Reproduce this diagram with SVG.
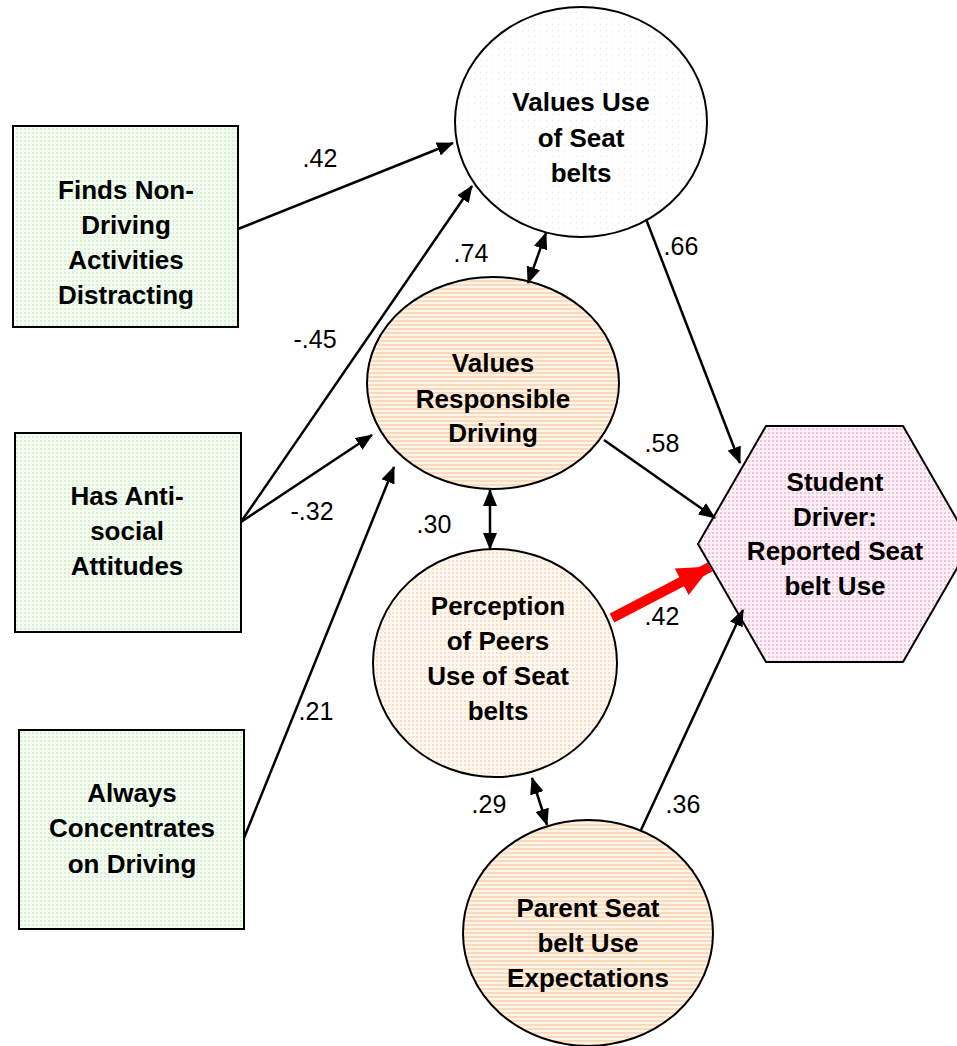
<svg xmlns="http://www.w3.org/2000/svg" width="957" height="1046" viewBox="0 0 957 1046">
<defs>
<marker id="ah" markerUnits="userSpaceOnUse" markerWidth="18" markerHeight="14" refX="16" refY="7" orient="auto-start-reverse"><path d="M0,0 L17,7 L0,14 Z" fill="#000"/></marker>
<marker id="ahr" markerUnits="userSpaceOnUse" markerWidth="34" markerHeight="30" refX="32" refY="15" orient="auto"><path d="M0,0 L33,15 L0,30 Z" fill="#f00"/></marker>
<pattern id="pg" width="4" height="4" patternUnits="userSpaceOnUse"><rect width="4" height="4" fill="#f4fcf2"/><rect width="2" height="2" fill="#d8f0d4"/></pattern>
<pattern id="po" width="4" height="4" patternUnits="userSpaceOnUse"><rect width="4" height="4" fill="#fff4ea"/><rect width="4" height="2" fill="#fbd9bb"/></pattern>
<pattern id="pq" width="4" height="4" patternUnits="userSpaceOnUse"><rect width="4" height="4" fill="#fff8f0"/><rect width="2" height="2" fill="#fbe0c8"/></pattern>
<pattern id="pp" width="4" height="4" patternUnits="userSpaceOnUse"><rect width="4" height="4" fill="#fdf0f6"/><rect width="2" height="2" fill="#f4c2da"/></pattern>
<pattern id="pw" width="6" height="6" patternUnits="userSpaceOnUse"><rect width="6" height="6" fill="#fff"/><rect width="1" height="1" fill="#f6e0cc"/></pattern>
</defs>
<style>
.nt{font-family:"Liberation Sans",Arial,sans-serif;font-size:26px;font-weight:bold;fill:#000;text-anchor:middle}
.lb{font-family:"Liberation Sans",Arial,sans-serif;font-size:25px;fill:#000;text-anchor:middle}
.sh{stroke:#000;stroke-width:2}
.cn{stroke:#000;stroke-width:2.5;fill:none;marker-end:url(#ah)}
.bi{stroke:#000;stroke-width:2.5;fill:none;marker-end:url(#ah);marker-start:url(#ah)}
</style>
<rect width="957" height="1046" fill="#fff"/>
<g id="n1"><rect class="sh" x="13" y="126" width="225" height="201" fill="url(#pg)"/>
<text class="nt" x="126" y="199">Finds Non-</text><text class="nt" x="126" y="234">Driving</text><text class="nt" x="126" y="269">Activities</text><text class="nt" x="126" y="304">Distracting</text></g>
<g id="n2"><rect class="sh" x="15" y="433" width="226" height="199" fill="url(#pg)"/>
<text class="nt" x="127" y="505">Has Anti-</text><text class="nt" x="127" y="540">social</text><text class="nt" x="127" y="575">Attitudes</text></g>
<g id="n3"><rect class="sh" x="19" y="730" width="225" height="199" fill="url(#pg)"/>
<text class="nt" x="132" y="802">Always</text><text class="nt" x="132" y="837">Concentrates</text><text class="nt" x="132" y="873">on Driving</text></g>
<g id="n4"><ellipse class="sh" cx="581" cy="122" rx="126" ry="115" fill="url(#pw)"/>
<text class="nt" x="581" y="111">Values Use</text><text class="nt" x="581" y="147">of Seat</text><text class="nt" x="581" y="182">belts</text></g>
<g id="n5"><ellipse class="sh" cx="493" cy="383" rx="126" ry="106" fill="url(#po)"/>
<text class="nt" x="493" y="372">Values</text><text class="nt" x="493" y="408">Responsible</text><text class="nt" x="493" y="442">Driving</text></g>
<g id="n6"><ellipse class="sh" cx="495" cy="663" rx="122" ry="114" fill="url(#pq)"/>
<text class="nt" x="498" y="615">Perception</text><text class="nt" x="498" y="650">of Peers</text><text class="nt" x="498" y="685">Use of Seat</text><text class="nt" x="498" y="720">belts</text></g>
<g id="n7"><ellipse class="sh" cx="588" cy="933" rx="125" ry="113" fill="url(#po)"/>
<text class="nt" x="588" y="917">Parent Seat</text><text class="nt" x="588" y="952">belt Use</text><text class="nt" x="588" y="987">Expectations</text></g>
<g id="n8"><polygon class="sh" points="698,544 766,426 903,426 971,544 903,662 766,662" fill="url(#pp)"/>
<text class="nt" x="835" y="491">Student</text><text class="nt" x="835" y="526">Driver:</text><text class="nt" x="835" y="560">Reported Seat</text><text class="nt" x="835" y="595">belt Use</text></g>
<g id="connectors">
<line class="cn" x1="238" y1="229" x2="453" y2="143"/>
<line class="cn" x1="241" y1="522" x2="472" y2="186"/>
<line class="cn" x1="241" y1="522" x2="372" y2="435"/>
<line class="cn" x1="244" y1="838" x2="394" y2="467"/>
<line class="bi" x1="528" y1="283" x2="546" y2="233"/>
<line class="cn" x1="646" y1="219" x2="740" y2="463"/>
<line class="cn" x1="604" y1="440" x2="715" y2="518"/>
<line class="bi" x1="490" y1="490" x2="490" y2="549"/>
<line x1="612" y1="618" x2="710" y2="567" stroke="#f00" stroke-width="10" marker-end="url(#ahr)"/>
<line class="bi" x1="532" y1="778" x2="547" y2="825"/>
<line class="cn" x1="641" y1="830" x2="743" y2="610"/>
</g>
<g id="labels">
<text class="lb" x="320" y="167">.42</text>
<text class="lb" x="471" y="262">.74</text>
<text class="lb" x="681" y="255">.66</text>
<text class="lb" x="315" y="348">-.45</text>
<text class="lb" x="662" y="452">.58</text>
<text class="lb" x="312" y="520">-.32</text>
<text class="lb" x="434" y="533">.30</text>
<text class="lb" x="662" y="625">.42</text>
<text class="lb" x="316" y="720">.21</text>
<text class="lb" x="489" y="813">.29</text>
<text class="lb" x="683" y="813">.36</text>
</g>
</svg>
